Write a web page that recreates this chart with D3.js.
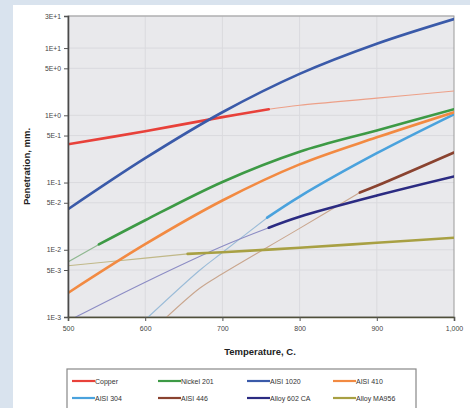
<!DOCTYPE html>
<html><head><meta charset="utf-8">
<script src="https://cdn.jsdelivr.net/npm/d3@7"></script>
<style>body{margin:0;background:#d9e3ee;}svg{display:block;}</style>
</head><body>
<svg id="c" width="470" height="408"></svg>
<script>
const yTicks = [30, 10, 5, 1, 0.5, 0.1, 0.05, 0.01, 0.005, 0.001];
const yTickLabels = ["3E+1","1E+1","5E+0","1E+0","5E-1","1E-1","5E-2","1E-2","5E-3","1E-3"];
const xTicks = [500, 600, 700, 800, 900, 1000];
const xTickLabels = ["500","600","700","800","900","1,000"];
const seriesNames = ["Copper","Nickel 201","AISI 1020","AISI 410","AISI 304","AISI 446","Alloy 602 CA","Alloy MA956"];
const seriesColors = ["#e8413a","#3d9a45","#3a5aa9","#f28a42","#4aa2dd","#8a4330","#2b2b82","#a8a043"];
const thinColors = ["#eda088","#8fb890","#8a9ccc","#f2b890","#9bbcd8","#c9a68e","#8c8cc4","#c0b888"];
// [temperature, penetration] — measured (thick) and extrapolated (thin) parts
const copperThick = [[500,0.37],[600,0.58],[700,0.94],[760,1.23]];
const copperThin  = [[760,1.23],[800,1.41],[900,1.8],[1000,2.3]];
const nickelThin  = [[500,0.0066],[540,0.012]];
const nickelThick = [[540,0.012],[600,0.0275],[700,0.102],[800,0.287],[900,0.596],[1000,1.23]];
const aisi1020Thick = [[500,0.04],[600,0.23],[700,1.11],[800,4.13],[900,11.6],[1000,27]];
const aisi410Thick = [[500,0.00228],[600,0.0121],[700,0.054],[800,0.186],[900,0.47],[1000,1.11]];
const aisi304Thin  = [[604,0.001],[671,0.005],[700,0.0091],[758,0.030]];
const aisi304Thick = [[758,0.030],[800,0.0618],[900,0.273],[1000,1.035]];
const aisi446Thin  = [[628,0.001],[671,0.0027],[700,0.0044],[800,0.0208],[878,0.071]];
const aisi446Thick = [[878,0.071],[900,0.0895],[1000,0.28]];
const alloy602Thin  = [[510,0.001],[600,0.0033],[700,0.0113],[760,0.0213]];
const alloy602Thick = [[760,0.0213],[800,0.031],[900,0.064],[1000,0.123]];
const ma956Thin  = [[500,0.00577],[600,0.0075],[655,0.0087]];
const ma956Thick = [[655,0.0087],[700,0.0092],[800,0.0107],[900,0.0127],[1000,0.0151]];

const segments = [
  {s:0, thick:false, d:copperThin},
  {s:1, thick:false, d:nickelThin},
  {s:4, thick:false, d:aisi304Thin},
  {s:5, thick:false, d:aisi446Thin},
  {s:6, thick:false, d:alloy602Thin},
  {s:7, thick:false, d:ma956Thin},
  {s:7, thick:true, d:ma956Thick},
  {s:6, thick:true, d:alloy602Thick},
  {s:5, thick:true, d:aisi446Thick},
  {s:4, thick:true, d:aisi304Thick},
  {s:3, thick:true, d:aisi410Thick},
  {s:1, thick:true, d:nickelThick},
  {s:0, thick:true, d:copperThick},
  {s:2, thick:true, d:aisi1020Thick}
];

const FONT = "Arial, 'Liberation Sans', sans-serif";
const svg = d3.select("#c");
svg.append("rect").attr("x",13).attr("y",5).attr("width",457).attr("height",403).attr("fill","#fff");

const L=68, R=454, T=16, B=317;
const x = d3.scaleLinear().domain([500,1000]).range([L,R]);
const y = d3.scaleLog().domain([0.001,30]).range([B,T]);

svg.append("rect").attr("x",L).attr("y",T).attr("width",R-L).attr("height",B-T).attr("fill","#e9e9ec");

const g = svg.append("g");
g.selectAll("line.hg").data(yTicks).join("line")
  .attr("x1",L).attr("x2",R).attr("y1",d=>y(d)).attr("y2",d=>y(d))
  .attr("stroke","#dadade").attr("stroke-width",1);
g.selectAll("line.vg").data(xTicks.slice(1,-1)).join("line")
  .attr("y1",T).attr("y2",B).attr("x1",d=>x(d)).attr("x2",d=>x(d))
  .attr("stroke","#dadade").attr("stroke-width",1);

svg.append("rect").attr("x",L).attr("y",T).attr("width",R-L).attr("height",B-T)
  .attr("fill","none").attr("stroke","#9a9a9a").attr("stroke-width",1);

const line = d3.line().x(d=>x(d[0])).y(d=>y(d[1])).curve(d3.curveCatmullRom.alpha(0.5));
svg.append("clipPath").attr("id","pc").append("rect")
  .attr("x",L).attr("y",T).attr("width",R-L).attr("height",B-T);
svg.append("g").attr("clip-path","url(#pc)").selectAll("path").data(segments).join("path")
  .attr("d",d=>line(d.d)).attr("fill","none")
  .attr("stroke",d=>d.thick?seriesColors[d.s]:thinColors[d.s])
  .attr("stroke-width",d=>d.thick?2.6:1.1)
  .attr("stroke-linecap","round");

const yAxis = d3.axisLeft(y).tickValues(yTicks).tickFormat((d,i)=>yTickLabels[i]).tickSize(4).tickPadding(3);
const ya = svg.append("g").attr("transform",`translate(${L},0)`).call(yAxis);
ya.select(".domain").attr("stroke","#4a4a4a").attr("stroke-width",1.6);
ya.selectAll(".tick line").attr("stroke","#555");
ya.selectAll("text").attr("font-family",FONT).attr("font-size",6.8).attr("fill","#444");

const xAxis = d3.axisBottom(x).tickValues(xTicks).tickFormat((d,i)=>xTickLabels[i]).tickSize(4).tickPadding(5);
const xa = svg.append("g").attr("transform",`translate(0,${B})`).call(xAxis);
xa.select(".domain").attr("stroke","#4f4f3a").attr("stroke-width",1.6);
xa.selectAll(".tick line").attr("stroke","#555");
xa.selectAll("text").attr("font-family",FONT).attr("font-size",7).attr("fill","#444");

svg.append("text").attr("x",260).attr("y",355).attr("text-anchor","middle")
  .attr("font-family",FONT).attr("font-size",9.5).attr("font-weight","bold").attr("fill","#222")
  .text("Temperature, C.");
svg.append("text").attr("transform",`translate(30,${(T+B)/2}) rotate(-90)`).attr("text-anchor","middle")
  .attr("font-family",FONT).attr("font-size",9.5).attr("font-weight","bold").attr("fill","#222")
  .text("Penetration, mm.");

// legend
const lg = svg.append("g");
lg.append("rect").attr("x",67).attr("y",369).attr("width",349).attr("height",45)
  .attr("fill","#fff").attr("stroke","#888").attr("stroke-width",1.2);
const colX = [72,158,247,333];
const rowY = [381,398];
seriesNames.forEach((n,i)=>{
  const cx = colX[i%4], cy = rowY[Math.floor(i/4)];
  lg.append("line").attr("x1",cx).attr("x2",cx+23).attr("y1",cy).attr("y2",cy)
    .attr("stroke",seriesColors[i]).attr("stroke-width",2.2);
  lg.append("text").attr("x",cx+23).attr("y",cy+2.5).attr("font-family",FONT)
    .attr("font-size",7).attr("fill","#333").text(n);
});
</script>
</body></html>
